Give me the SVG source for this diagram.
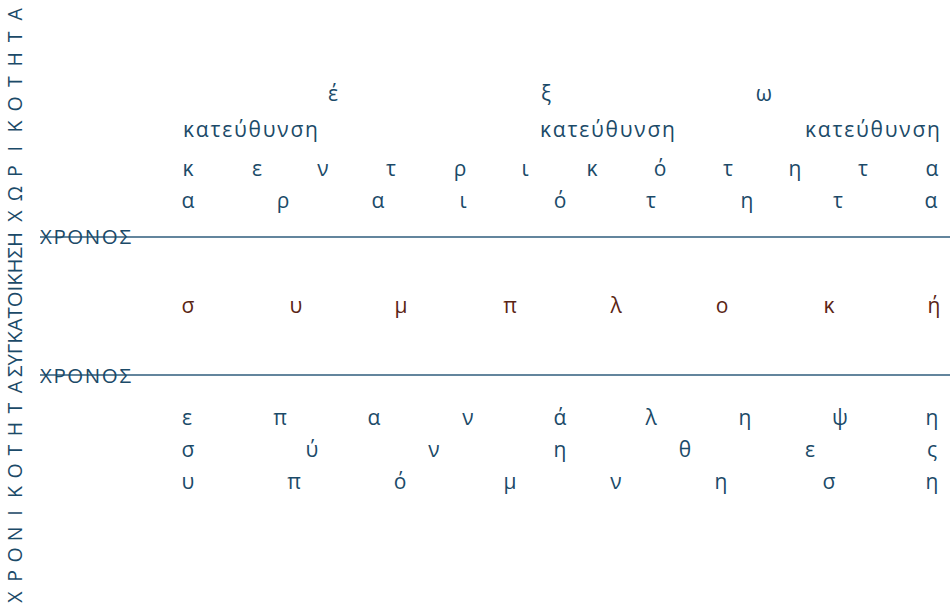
<svg xmlns="http://www.w3.org/2000/svg" width="950" height="605" viewBox="0 0 950 605">
<style>
.t{font-family:"Open Sans","Noto Sans","DejaVu Sans",sans-serif;font-size:21px;fill:#1b4a68;text-anchor:middle}
.w{font-family:"Open Sans","Noto Sans","DejaVu Sans",sans-serif;font-size:21px;fill:#1b4a68}
.b{fill:#5a2414}
.v{font-family:"Open Sans","Noto Sans","DejaVu Sans",sans-serif;font-size:19.5px;fill:#1b4a68}
.h{font-family:"Open Sans","Noto Sans","DejaVu Sans",sans-serif;font-size:20.5px;fill:#1b4a68}
.ln{stroke:#2f5c7c;stroke-width:1.6;fill:none}
</style>
<rect width="950" height="605" fill="#ffffff"/>
<g id="axis-vertical" transform="translate(22,0) rotate(-90)">
<text class="v" style="text-anchor:middle" x="-597 -576 -555 -534 -513 -492 -471 -450 -429 -408 -387" y="0">ΧΡΟΝΙΚΟΤΗΤΑ</text>
<text class="v" x="-377" y="0" textLength="145" lengthAdjust="spacingAndGlyphs">ΣΥΓΚΑΤΟΙΚΗΣΗ</text>
<text class="v" style="text-anchor:middle" x="-216 -193.6 -171.2 -148.8 -126.4 -104 -81.6 -59.2 -36.8 -14.4" y="0">ΧΩΡΙΚΟΤΗΤΑ</text>
</g>
<g id="connectors">
<line class="ln" x1="40" y1="237" x2="950" y2="237"/>
<line class="ln" x1="40" y1="375" x2="950" y2="375"/>
</g>
<g id="time-top"><text class="h" x="40" y="244" textLength="91" lengthAdjust="spacing">ΧΡΟΝΟΣ</text></g>
<g id="time-bottom"><text class="h" x="40" y="383" textLength="91" lengthAdjust="spacing">ΧΡΟΝΟΣ</text></g>
<g id="upper">
<text class="t" x="333 546 764" y="101">έξω</text>
<text class="w" x="183" y="137" textLength="135" lengthAdjust="spacing">κατεύθυνση</text>
<text class="w" x="540" y="137" textLength="135" lengthAdjust="spacing">κατεύθυνση</text>
<text class="w" x="805" y="137" textLength="135" lengthAdjust="spacing">κατεύθυνση</text>
<text class="t" x="188 257 323 391 460 525 592 660 728 795 863 932" y="176">κεντρικότητα</text>
<text class="t" x="188 283 378 463 560 651 747 838 931" y="208">αραιότητα</text>
</g>
<g id="middle">
<text class="t b" x="188 296 401 510 616 722 829 934" y="313">συμπλοκή</text>
</g>
<g id="lower">
<text class="t" x="187 280 374 468 560 651 745 840 932" y="425">επανάληψη</text>
<text class="t" x="188 312 434 560 685 810 932" y="457">σύνηθες</text>
<text class="t" x="188 294 400 510 616 721 829 932" y="489">υπόμνηση</text>
</g>
</svg>
